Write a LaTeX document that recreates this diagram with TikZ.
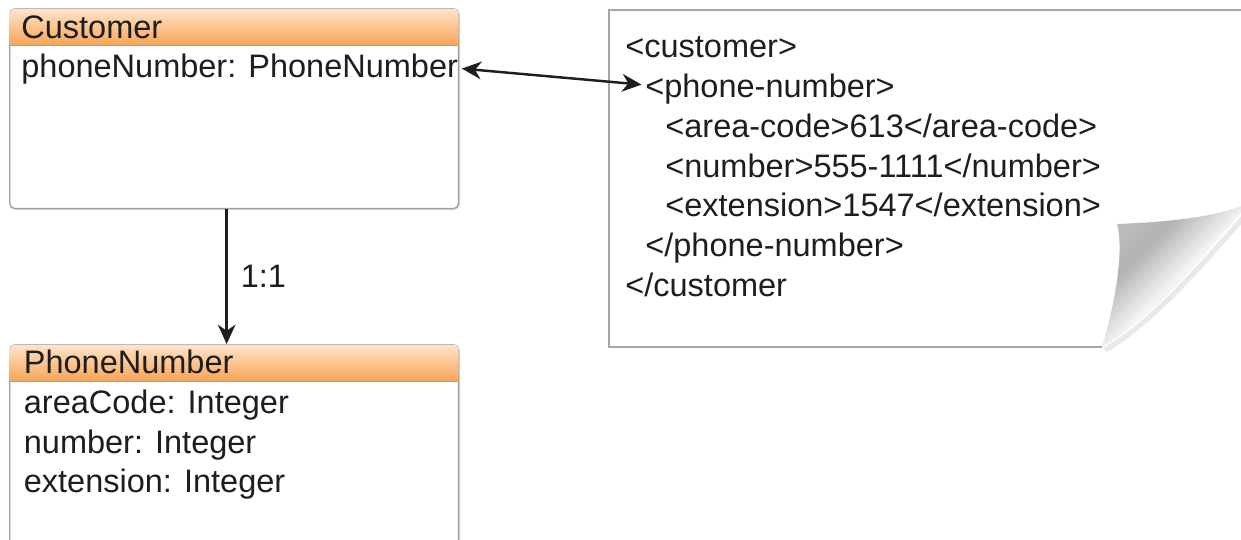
\documentclass[tikz,border=0pt]{standalone}
\usepackage{fontspec}
\setmainfont{Liberation Sans}
\usetikzlibrary{arrows.meta,shadows}
\definecolor{headtop}{HTML}{FEE6CC}
\definecolor{headbot}{HTML}{F7A455}
\definecolor{boxgray}{HTML}{A0A0A0}
\definecolor{inkgray}{HTML}{1E1E1E}
\pgfdeclarehorizontalshading{curl}{100bp}{color(0bp)=(gray!35); color(36bp)=(gray!60); color(52bp)=(gray!8); color(70bp)=(gray!55); color(100bp)=(gray!80)}

\begin{document}
\begin{tikzpicture}[x=0.02cm, y=-0.02cm,
    every node/.style={font=\fontsize{18.5}{22}\selectfont, text=inkgray},
    classbox/.style={draw=boxgray, line width=0.8pt, rounded corners=3pt, fill=white,
      minimum width=8.98cm, anchor=north west,
      drop shadow={shadow xshift=0.8pt, shadow yshift=-0.8pt, opacity=0.2}},
    header/.style={top color=headtop, bottom color=headbot, draw=none},
    txt/.style={anchor=base west, inner xsep=2pt, inner ysep=0pt},
    link/.style={draw=inkgray, line width=1.4pt},
    >={Stealth[length=11pt, width=10pt, inset=3.5pt]}]
        \useasboundingbox (0,0) rectangle (1241,539);

        \node[classbox, minimum height=4cm] (customer) at (9,8) {};
        \node[classbox, minimum height=4.4cm] (phone) at (9,344) {};

        \begin{scope}
            \clip[rounded corners=2.6pt] ([xshift=0.4pt, yshift=-0.4pt]customer.north west) rectangle ([xshift=-0.4pt, yshift=0.4pt]customer.south east);
            \shade[header] (customer.north west) rectangle ([yshift=-0.75cm]customer.north east);
        \end{scope}
        \begin{scope}
            \clip[rounded corners=2.6pt] ([xshift=0.4pt, yshift=-0.4pt]phone.north west) rectangle ([xshift=-0.4pt, yshift=0.4pt]phone.south east);
            \shade[header] (phone.north west) rectangle ([yshift=-0.75cm]phone.north east);
        \end{scope}
        \draw[boxgray, line width=0.8pt] ([yshift=-0.75cm]customer.north west) -- ([yshift=-0.75cm]customer.north east);
        \draw[boxgray, line width=0.8pt] ([yshift=-0.75cm]phone.north west) -- ([yshift=-0.75cm]phone.north east);

        \node[txt] (customer-name) at (17.5,38) {Customer};
        \node[txt] (customer-attr) at (17.5,77) {phoneNumber: PhoneNumber};

        \node[txt] (phone-name) at (20,373) {PhoneNumber};
        \node[txt] (phone-area) at (20,413) {areaCode: Integer};
        \node[txt] (phone-number) at (20,453) {number: Integer};
        \node[txt] (phone-ext) at (20,492) {extension: Integer};

        \draw[draw=gray!70, line width=1pt] (1300,10) -- (609,10) -- (609,347) -- (1102,347);
        \draw[gray!50, line width=3pt, opacity=0.35] (1244,217) .. controls (1198,269) and (1152,323) .. (1105,350);
        \shade[shading=curl, shading angle=-45] (1102,347) .. controls (1116,300) and (1124,250) .. (1117,224)
            .. controls (1165,222) and (1210,218) .. (1241,206) -- (1241,213)
            .. controls (1196,264) and (1150,320) .. (1102,347) -- cycle;

        \node[txt] (xml-open) at (621.5,57) {<customer>};
        \node[txt] (xml-phone) at (641.5,97) {<phone-number>};
        \node[txt] (xml-area) at (661.5,137) {<area-code>613</area-code>};
        \node[txt] (xml-number) at (661.5,177) {<number>555-1111</number>};
        \node[txt] (xml-ext) at (661.5,216) {<extension>1547</extension>};
        \node[txt] (xml-phone-end) at (641.5,256) {</phone-number>};
        \node[txt] (xml-close) at (621.5,296) {</customer};

        \draw[link, <->] (customer-attr.east) -- ([yshift=0.08cm]xml-phone.west);
        \draw[link, ->] ([xshift=-0.15cm]customer.south) -- ([xshift=-0.15cm]phone.north)
            node[midway, anchor=west, xshift=0.26cm, inner sep=0pt] (ratio) {1:1};
    \end{tikzpicture}
\end{document}
